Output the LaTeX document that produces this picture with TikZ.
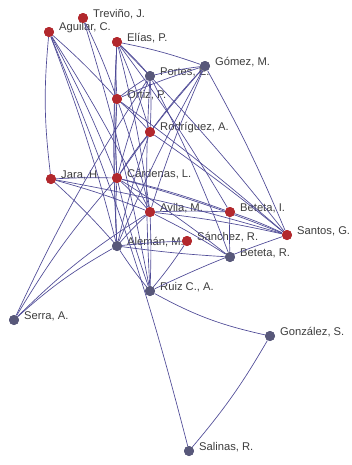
\documentclass[tikz,border=0pt]{standalone}
\usepackage{fontspec}
\setmainfont{Liberation Sans}
\usepackage{xcolor}
\definecolor{textcolor}{RGB}{60,60,60}
\definecolor{edgecolor}{RGB}{78,74,150}
\definecolor{redcolor}{RGB}{178,40,45}
\definecolor{graycolor}{RGB}{88,88,122}
\usepackage{tikz}

\begin{document}
\begin{tikzpicture}[x=0.75pt, y=-0.75pt,
  every label/.style={color=textcolor, font=\fontsize{8.4}{10}\selectfont, inner sep=1.5pt},
  rednode/.style={circle, fill=redcolor, minimum size=7.5pt, inner sep=0pt},
  graynode/.style={circle, fill=graycolor, minimum size=7.5pt, inner sep=0pt},
  edge/.style={edgecolor, line width=0.5pt}]
  \useasboundingbox (0,0) rectangle (352,465);

  % actors
  \node[rednode, label={[anchor=south west, xshift=2pt, yshift=-2.5pt]east:Treviño, J.}] (trevino) at (83,18) {};
  \node[rednode, label={[anchor=south west, xshift=2pt, yshift=-2.5pt]east:Aguilar, C.}] (aguilar) at (49,32) {};
  \node[rednode, label={[anchor=south west, xshift=2pt, yshift=-2.5pt]east:Elías, P.}] (elias) at (117,42) {};
  \node[graynode, label={[anchor=south west, xshift=2pt, yshift=-2.5pt]east:Gómez, M.}] (gomez) at (205,66) {};
  \node[graynode, label={[anchor=south west, xshift=2pt, yshift=-2.5pt]east:Portes, E.}] (portes) at (150,76) {};
  \node[rednode, label={[anchor=south west, xshift=2pt, yshift=-2.5pt]east:Ortiz, P.}] (ortiz) at (117,99) {};
  \node[rednode, label={[anchor=south west, xshift=2pt, yshift=-2.5pt]east:Rodríguez, A.}] (rodriguez) at (150,132) {};
  \node[rednode, label={[anchor=south west, xshift=2pt, yshift=-2.5pt]east:Jara, H.}] (jara) at (51,179) {};
  \node[rednode, label={[anchor=south west, xshift=2pt, yshift=-2.5pt]east:Cárdenas, L.}] (cardenas) at (117,178) {};
  \node[rednode, label={[anchor=south west, xshift=2pt, yshift=-2.5pt]east:Avila, M.}] (avila) at (150,212) {};
  \node[rednode, label={[anchor=south west, xshift=2pt, yshift=-2.5pt]east:Beteta, I.}] (betetai) at (230,212) {};
  \node[rednode, label={[anchor=south west, xshift=2pt, yshift=-2.5pt]east:Santos, G.}] (santos) at (287,235) {};
  \node[rednode, label={[anchor=south west, xshift=2pt, yshift=-2.5pt]east:Sánchez, R.}] (sanchez) at (187,241) {};
  \node[graynode, label={[anchor=south west, xshift=2pt, yshift=-2.5pt]east:Alemán, M.}] (aleman) at (117,246) {};
  \node[graynode, label={[anchor=south west, xshift=2pt, yshift=-2.5pt]east:Beteta, R.}] (betetar) at (230,257) {};
  \node[graynode, label={[anchor=south west, xshift=2pt, yshift=-2.5pt]east:Ruiz C., A.}] (ruiz) at (150,291) {};
  \node[graynode, label={[anchor=south west, xshift=2pt, yshift=-2.5pt]east:Serra, A.}] (serra) at (14,320) {};
  \node[graynode, label={[anchor=south west, xshift=2pt, yshift=-2.5pt]east:González, S.}] (gonzalez) at (270,336) {};
  \node[graynode, label={[anchor=south west, xshift=2pt, yshift=-2.5pt]east:Salinas, R.}] (salinas) at (189,451) {};

  % ties
  \draw[edge] (aguilar) to[bend right=6] (jara);
  \draw[edge] (aguilar) to[bend left=3] (ortiz);
  \draw[edge] (aguilar) to[bend left=3] (cardenas);
  \draw[edge] (aguilar) to[bend left=3] (avila);
  \draw[edge] (aguilar) to[bend left=3] (aleman);
  \draw[edge] (aguilar) to[bend left=4] (salinas);
  \draw[edge] (trevino) to[bend left=3] (ortiz);
  \draw[edge] (trevino) to[bend left=3] (ruiz);
  \draw[edge] (elias) to[bend left=3] (portes);
  \draw[edge] (elias) to[bend left=4] (gomez);
  \draw[edge] (elias) to[bend right=3] (ortiz);
  \draw[edge] (elias) to[bend right=3] (cardenas);
  \draw[edge] (elias) to[bend left=3] (rodriguez);
  \draw[edge] (elias) to[bend left=3] (avila);
  \draw[edge] (elias) to[bend left=3] (santos);
  \draw[edge] (elias) to[bend left=3] (betetai);
  \draw[edge] (elias) to[bend right=3] (aleman);
  \draw[edge] (portes) to[bend left=3] (gomez);
  \draw[edge] (portes) to[bend right=3] (ortiz);
  \draw[edge] (portes) to[bend left=3] (rodriguez);
  \draw[edge] (portes) to[bend right=3] (cardenas);
  \draw[edge] (portes) to[bend right=3] (ruiz);
  \draw[edge] (portes) to[bend left=3] (betetar);
  \draw[edge] (portes) to[bend right=4] (serra);
  \draw[edge] (gomez) to[bend right=3] (ortiz);
  \draw[edge] (gomez) to[bend right=3] (rodriguez);
  \draw[edge] (gomez) to[bend right=3] (cardenas);
  \draw[edge] (gomez) to[bend right=3] (avila);
  \draw[edge] (gomez) to[bend right=3] (aleman);
  \draw[edge] (gomez) to[bend left=3] (santos);
  \draw[edge] (ortiz) to[bend right=3] (cardenas);
  \draw[edge] (ortiz) to[bend left=3] (rodriguez);
  \draw[edge] (ortiz) to[bend left=2] (santos);
  \draw[edge] (ortiz) to[bend left=3] (avila);
  \draw[edge] (ortiz) to[bend right=3] (aleman);
  \draw[edge] (rodriguez) to[bend left=2] (santos);
  \draw[edge] (rodriguez) to[bend right=3] (cardenas);
  \draw[edge] (rodriguez) to[bend right=3] (aleman);
  \draw[edge] (jara) to[bend left=2] (cardenas);
  \draw[edge] (jara) to[bend left=3] (avila);
  \draw[edge] (jara) to[bend left=3] (aleman);
  \draw[edge] (jara) to[bend left=3] (santos);
  \draw[edge] (cardenas) to[bend left=3] (avila);
  \draw[edge] (cardenas) to[bend left=3] (santos);
  \draw[edge] (cardenas) to[bend left=3] (betetai);
  \draw[edge] (cardenas) to[bend right=3] (aleman);
  \draw[edge] (cardenas) to[bend right=3] (ruiz);
  \draw[edge] (cardenas) to[bend left=3] (betetar);
  \draw[edge] (cardenas) to[bend right=5] (serra);
  \draw[edge] (avila) to[bend left=2] (betetai);
  \draw[edge] (avila) to[bend left=3] (santos);
  \draw[edge] (avila) to[bend right=3] (aleman);
  \draw[edge] (avila) to[bend left=2] (ruiz);
  \draw[edge] (avila) to[bend left=3] (betetar);
  \draw[edge] (avila) to[bend right=6] (serra);
  \draw[edge] (aleman) to[bend left=2] (sanchez);
  \draw[edge] (aleman) to[bend right=2] (betetar);
  \draw[edge] (aleman) to[bend right=3] (ruiz);
  \draw[edge] (aleman) to[bend right=6] (serra);
  \draw[edge] (sanchez) to[bend left=3] (ruiz);
  \draw[edge] (betetai) to[bend right=2] (betetar);
  \draw[edge] (betetai) to[bend left=3] (santos);
  \draw[edge] (ruiz) to[bend left=3] (santos);
  \draw[edge] (ruiz) to[bend right=8] (gonzalez);
  \draw[edge] (gonzalez) to[bend left=5] (salinas);

  % redraw actors over the ties
  \foreach \n/\s in {trevino/rednode, aguilar/rednode, elias/rednode, gomez/graynode,
    portes/graynode, ortiz/rednode, rodriguez/rednode, jara/rednode, cardenas/rednode,
    avila/rednode, betetai/rednode, santos/rednode, sanchez/rednode, aleman/graynode,
    betetar/graynode, ruiz/graynode, serra/graynode, gonzalez/graynode, salinas/graynode}
    \node[\s] at (\n) {};
\end{tikzpicture}
\end{document}
